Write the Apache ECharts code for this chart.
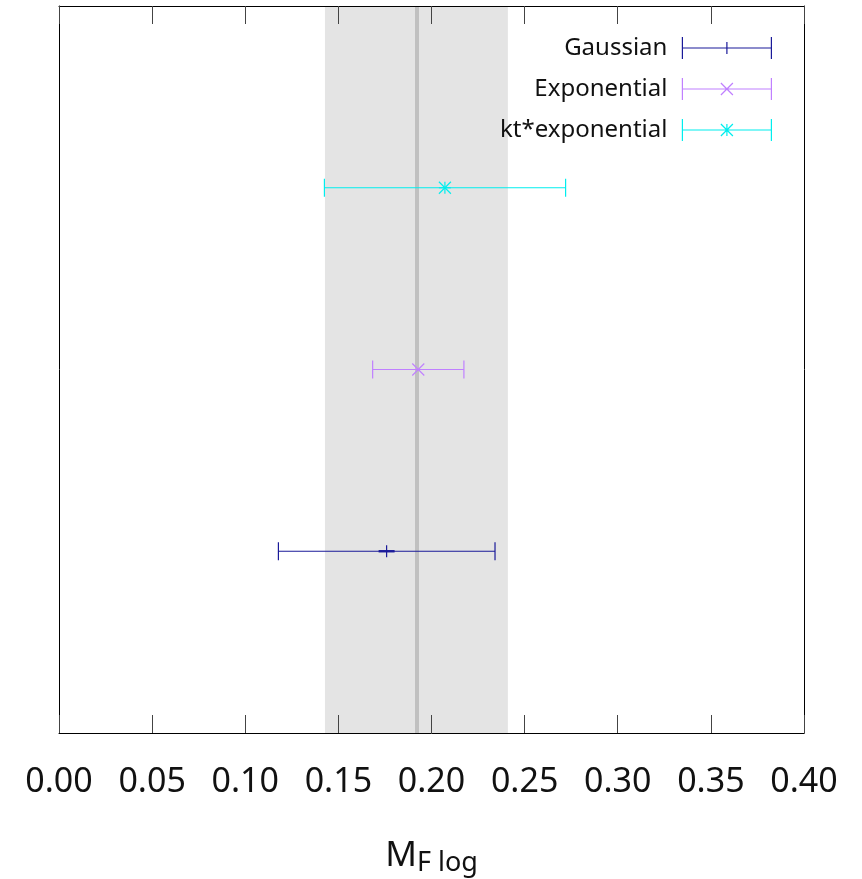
<!DOCTYPE html>
<html>
<head>
<meta charset="utf-8">
<script src="https://cdn.jsdelivr.net/npm/echarts@6/dist/echarts.min.js"></script>
<style>html,body{margin:0;padding:0;background:#fff}#c{width:862px;height:879px}</style>
</head>
<body>
<div id="c"></div>
<script>
// ---- data ----
const seriesNames = ['Gaussian', 'Exponential', 'kt*exponential'];
const centers = [0.1759, 0.1929, 0.2072];
const lows = [0.1178, 0.1684, 0.1425];
const highs = [0.2341, 0.2174, 0.2720];
const rows = [1, 2, 3];
const bandRange = [0.1428, 0.2410];
const bandCenter = [0.1922];
const xTicks = [0.00, 0.05, 0.10, 0.15, 0.20, 0.25, 0.30, 0.35, 0.40];

const colors = ['#1a1a99', '#c080ff', '#00eeee'];
const markers = ['plus', 'cross', 'star'];
const font = '"Noto Sans", "Open Sans", sans-serif';

function markerShapes(kind, cx, cy, s, color) {
  const L = (x1, y1, x2, y2, w) => ({ type: 'line', shape: { x1, y1, x2, y2 }, style: { stroke: color, lineWidth: w || 1.2 } });
  const out = [];
  if (kind === 'plus') {
    out.push(L(cx - 8, cy, cx + 8, cy, 2.4), L(cx, cy - s, cx, cy + s));
  }
  if (kind === 'star') {
    out.push(L(cx - s, cy, cx + s, cy), L(cx, cy - s, cx, cy + s));
  }
  if (kind === 'cross' || kind === 'star') {
    out.push(L(cx - s, cy - s, cx + s, cy + s), L(cx - s, cy + s, cx + s, cy - s));
  }
  return out;
}

function makeSeries(i) {
  return {
    name: seriesNames[i],
    type: 'custom',
    z: 5,
    data: [[centers[i], lows[i], highs[i], rows[i]]],
    itemStyle: { color: colors[i] },
    renderItem: function (params, api) {
      const y = api.value(3);
      const c = api.coord([api.value(0), y]);
      const l = api.coord([api.value(1), y]);
      const h = api.coord([api.value(2), y]);
      const st = { stroke: colors[i], lineWidth: 1.2 };
      const cap = 9;
      const ch = [
        { type: 'line', shape: { x1: l[0], y1: c[1], x2: h[0], y2: c[1] }, style: st },
        { type: 'line', shape: { x1: l[0], y1: c[1] - cap, x2: l[0], y2: c[1] + cap }, style: st },
        { type: 'line', shape: { x1: h[0], y1: c[1] - cap, x2: h[0], y2: c[1] + cap }, style: st }
      ].concat(markerShapes(markers[i], c[0], c[1], 6, colors[i]));
      return { type: 'group', children: ch };
    }
  };
}

function legendIcon(kind) {
  // box 89 x 22
  let p = 'path://M0,0L0,22M0,11L89,11M89,0L89,22';
  if (kind === 'plus' || kind === 'star') p += 'M38,11L51,11M44.5,5L44.5,17';
  if (kind === 'cross' || kind === 'star') p += 'M38.5,5L50.5,17M38.5,17L50.5,5';
  return p;
}

const chart = echarts.init(document.getElementById('c'), null, { renderer: 'canvas' });
chart.setOption({
  animation: false,
  backgroundColor: '#fff',
  grid: { left: 59, right: 58, top: 6, bottom: 146, outerBoundsMode: 'none', containLabel: false },
  legend: {
    orient: 'vertical',
    align: 'right',
    right: 85,
    top: 31,
    itemWidth: 89,
    itemHeight: 22,
    itemGap: 17,
    textStyle: { fontFamily: font, fontSize: 24, color: '#111', padding: [0, 10, 0, 0] },
    data: seriesNames.map((n, i) => ({
      name: n,
      icon: legendIcon(markers[i]),
      itemStyle: { color: colors[i], borderColor: colors[i], borderWidth: 1.2 }
    }))
  },
  xAxis: [{
    type: 'value', min: xTicks[0], max: xTicks[xTicks.length - 1], interval: 0.05,
    position: 'bottom', z: 10,
    axisLine: { show: true, onZero: false, lineStyle: { color: '#000', width: 1 } },
    axisTick: { show: true, inside: true, length: 18, lineStyle: { color: '#444', width: 1 } },
    splitLine: { show: false },
    axisLabel: { fontFamily: font, fontSize: 34, color: '#111', margin: 32,
      formatter: v => v.toFixed(2) },
    name: '{m|M}{s|F log}',
    nameLocation: 'middle',
    nameGap: 102,
    nameTextStyle: {
      rich: {
        m: { fontFamily: font, fontSize: 35, color: '#111', lineHeight: 42 },
        s: { fontFamily: font, fontSize: 27, color: '#111', lineHeight: 42, padding: [15, 0, 0, 0] }
      }
    }
  }, {
    type: 'value', min: xTicks[0], max: xTicks[xTicks.length - 1], interval: 0.05,
    position: 'top', z: 10,
    axisLine: { show: true, onZero: false, lineStyle: { color: '#000', width: 1 } },
    axisTick: { show: true, inside: true, length: 18, lineStyle: { color: '#444', width: 1 } },
    splitLine: { show: false },
    axisLabel: { show: false }
  }],
  yAxis: [{
    type: 'value', min: 0, max: 4, position: 'left', z: 10,
    axisLine: { show: true, onZero: false, lineStyle: { color: '#000', width: 1 } },
    axisTick: { show: false }, axisLabel: { show: false }, splitLine: { show: false }
  }, {
    type: 'value', min: 0, max: 4, position: 'right', z: 10,
    axisLine: { show: true, onZero: false, lineStyle: { color: '#000', width: 1 } },
    axisTick: { show: false }, axisLabel: { show: false }, splitLine: { show: false }
  }],
  series: [{
    type: 'line', data: [], z: 1, silent: true,
    markArea: {
      silent: true,
      itemStyle: { color: '#e4e4e4' },
      data: [[{ xAxis: bandRange[0] }, { xAxis: bandRange[1] }]]
    },
    markLine: {
      silent: true, symbol: 'none', label: { show: false }, precision: 4,
      lineStyle: { color: '#c0c0c0', width: 4, type: 'solid' },
      data: [{ xAxis: bandCenter[0] }]
    }
  }].concat([0, 1, 2].map(makeSeries))
});
</script>
</body>
</html>
